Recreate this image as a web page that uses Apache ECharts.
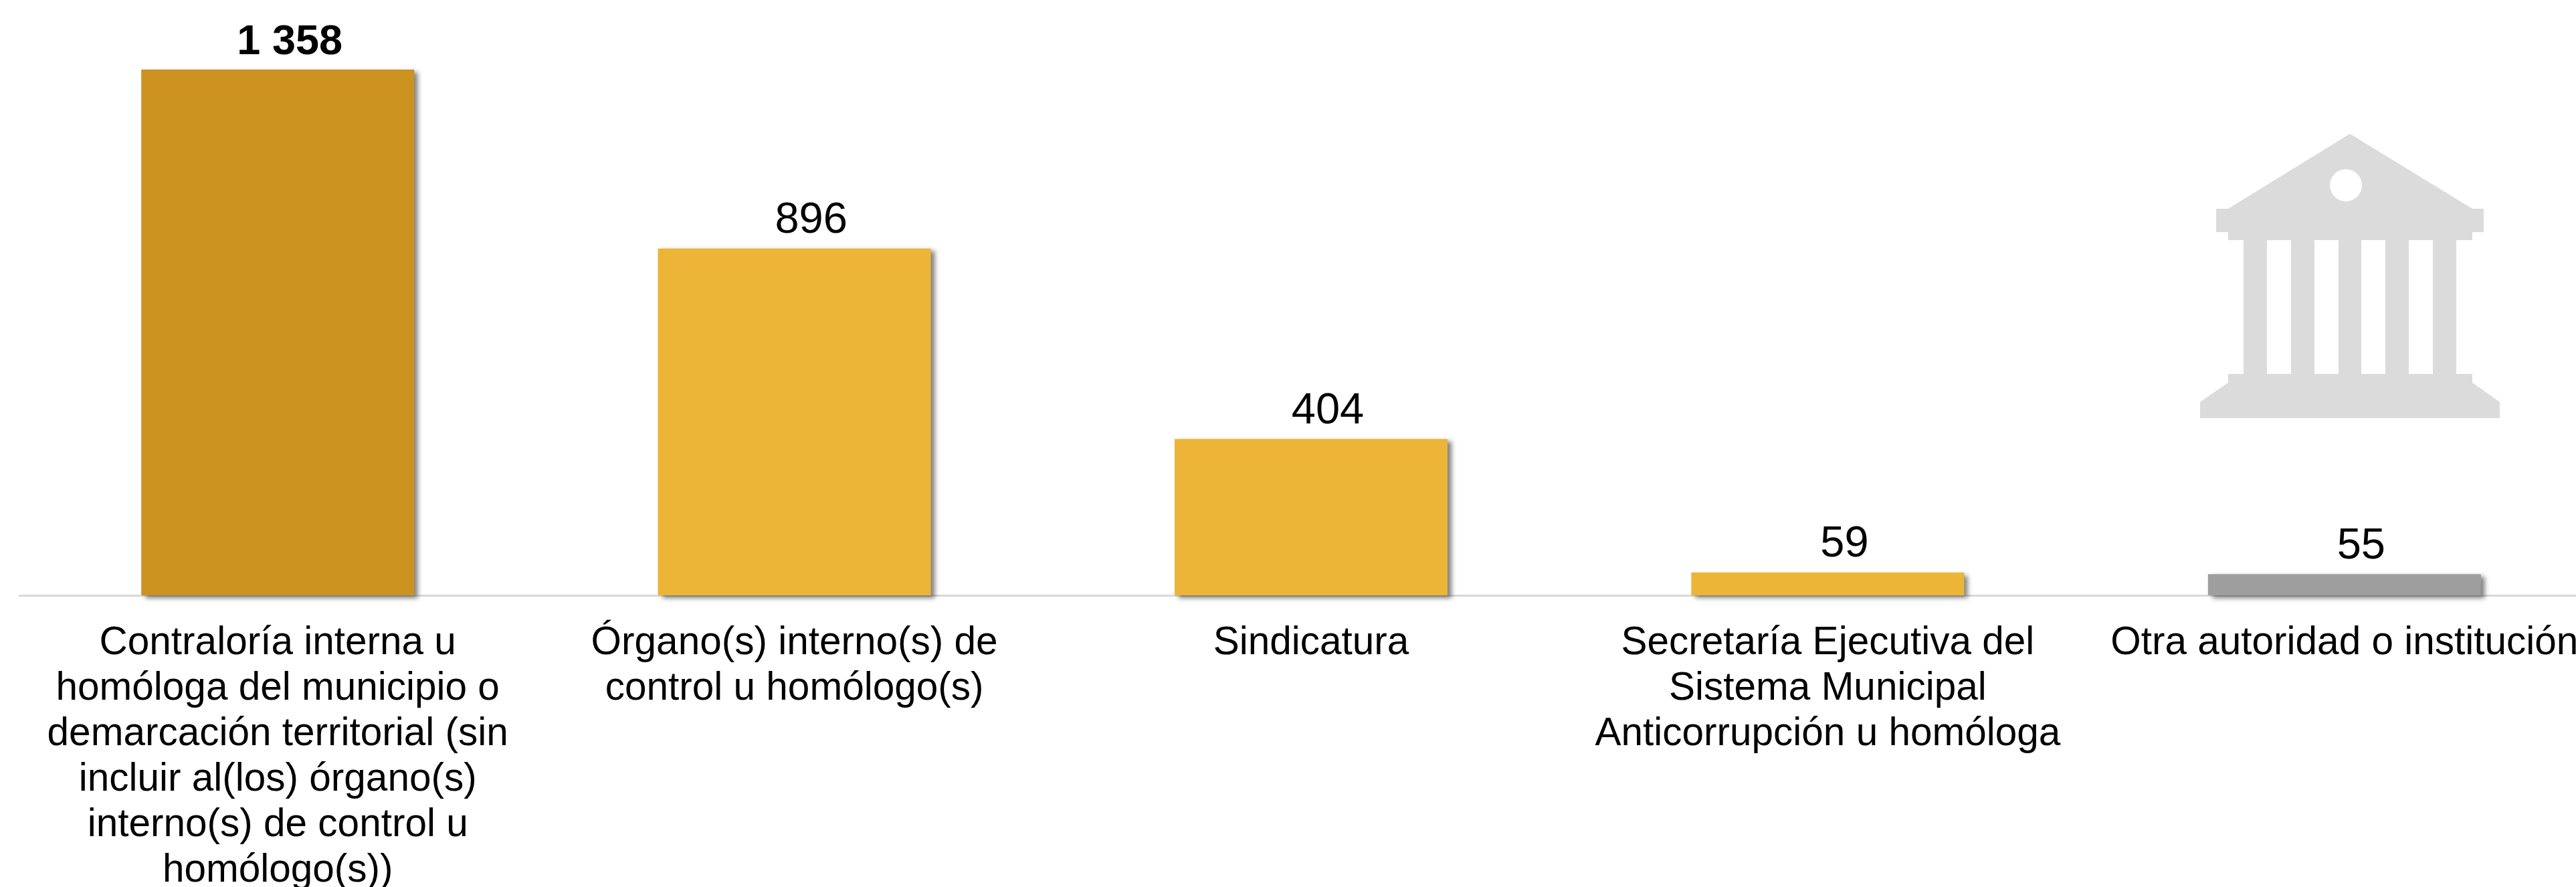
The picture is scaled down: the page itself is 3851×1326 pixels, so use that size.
<!DOCTYPE html>
<html>
<head>
<meta charset="utf-8">
<title>Autoridades</title>
<style>
  html, body { margin: 0; padding: 0; background: #fff; }
  #chart { width: 3851px; height: 1326px; }
</style>
<script src="https://cdn.jsdelivr.net/npm/echarts@6/dist/echarts.min.js"></script>
</head>
<body>
<div id="chart"></div>
<script>
const categories = [
  'Contraloría interna u\nhomóloga del municipio o\ndemarcación territorial (sin\nincluir al(los) órgano(s)\ninterno(s) de control u\nhomólogo(s))',
  'Órgano(s) interno(s) de\ncontrol u homólogo(s)',
  'Sindicatura',
  'Secretaría Ejecutiva del\nSistema Municipal\nAnticorrupción u homóloga',
  'Otra autoridad o institución'
];
const values = [1358, 896, 404, 59, 55];
const valueLabels = ['1 358', '896', '404', '59', '55'];
const barColors = ['#CB9220', '#ECB538', '#ECB538', '#ECB538', '#9E9E9E'];

const FONT = '"Liberation Sans", Arial, sans-serif';
const ICON_GREY = '#DBDBDB';

// building icon, decoration only
const columnXs = [3389, 3460, 3530, 3601];
const iconOutline = [
  [3513, 200], [3696, 312], [3713, 312], [3713, 347], [3696, 347], [3696, 359],
  [3672, 359], [3672, 559], [3696, 559], [3696, 572], [3737, 601], [3737, 625],
  [3289, 625], [3289, 601], [3331, 572], [3331, 559], [3354, 559], [3354, 359],
  [3331, 359], [3331, 347], [3313, 347], [3313, 312], [3331, 312]
];

const chart = echarts.init(document.getElementById('chart'), null, { renderer: 'canvas' });

chart.setOption({
  backgroundColor: '#fff',
  animation: false,
  grid: { left: 29, top: 104, width: 3862, height: 786, containLabel: false, outerBoundsMode: 'none' },
  xAxis: {
    type: 'category',
    data: categories,
    axisLine: { lineStyle: { color: '#D9D9D9', width: 3 } },
    axisTick: { show: false },
    axisLabel: {
      interval: 0,
      hideOverlap: false,
      color: '#000',
      fontFamily: FONT,
      fontSize: 58.5,
      lineHeight: 68,
      margin: 38
    }
  },
  yAxis: { type: 'value', min: 0, max: 1358, show: false, splitLine: { show: false } },
  series: [{
    type: 'bar',
    barWidth: 408,
    data: values.map((v, i) => ({
      value: v,
      itemStyle: { color: barColors[i] },
      label: {
        fontWeight: i === 0 ? 'bold' : 'normal',
        fontSize: i === 0 ? 63 : 65,
        offset: i === 0 ? [18, 0] : [25, 0]
      }
    })),
    itemStyle: {
      shadowColor: 'rgba(0,0,0,0.5)',
      shadowBlur: 7,
      shadowOffsetX: 6,
      shadowOffsetY: 4
    },
    label: {
      show: true,
      position: 'top',
      distance: 9,
      color: '#000',
      fontFamily: FONT,
      formatter: (p) => valueLabels[p.dataIndex]
    }
  }],
  graphic: [
    { type: 'polygon', shape: { points: iconOutline }, style: { fill: ICON_GREY }, silent: true },
    ...columnXs.map((x) => ({
      type: 'rect',
      shape: { x: x, y: 359, width: 36, height: 200 },
      style: { fill: '#fff' },
      silent: true
    })),
    { type: 'circle', shape: { cx: 3507, cy: 277, r: 24 }, style: { fill: '#fff' }, silent: true }
  ]
});

window.addEventListener('resize', () => chart.resize());
</script>
</body>
</html>
